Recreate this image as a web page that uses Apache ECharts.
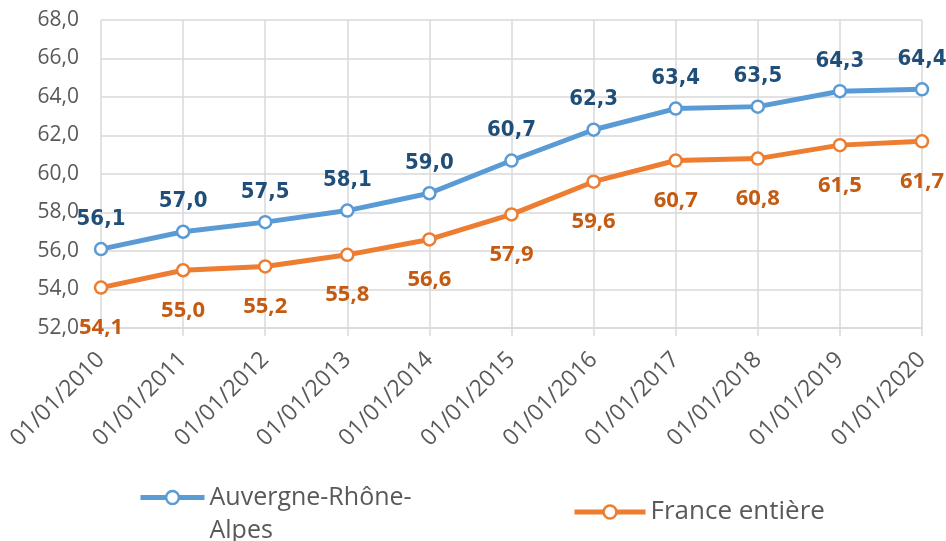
<!DOCTYPE html>
<html>
<head>
<meta charset="utf-8">
<script src="https://cdn.jsdelivr.net/npm/echarts@6/dist/echarts.min.js"></script>
<style>html,body{margin:0;padding:0;background:#fff;}#c{width:946px;height:541px;}</style>
</head>
<body>
<div id="c"></div>
<script>
const categories = ['01/01/2010','01/01/2011','01/01/2012','01/01/2013','01/01/2014','01/01/2015','01/01/2016','01/01/2017','01/01/2018','01/01/2019','01/01/2020'];
const auvergne = [56.1, 57.0, 57.5, 58.1, 59.0, 60.7, 62.3, 63.4, 63.5, 64.3, 64.4];
const france = [54.1, 55.0, 55.2, 55.8, 56.6, 57.9, 59.6, 60.7, 60.8, 61.5, 61.7];
const seriesNames = ['Auvergne-Rhône-Alpes', 'France entière'];
const yMin = 52, yMax = 68, yStep = 2;

const fmt = v => Number(v).toFixed(1).replace('.', ',');
const gridColor = '#D9D9D9';
const textGray = '#595959';

const chart = echarts.init(document.getElementById('c'));
chart.setOption({
  animation: false,
  backgroundColor: '#fff',
  grid: { left: 101, right: 24, top: 20, bottom: 213, containLabel: false, outerBoundsMode: 'none' },
  legend: [
    {
      data: [seriesNames[0]], left: 138, top: 448, padding: 0,
      itemWidth: 64, itemHeight: 16,
      lineStyle: { width: 5 }, itemStyle: { borderWidth: 2.5 },
      formatter: () => '\nAuvergne-Rhône-\nAlpes',
      textStyle: { color: textGray, fontFamily: 'Open Sans', fontSize: 25, lineHeight: 33 }
    },
    {
      data: [seriesNames[1]], left: 572, top: 497, padding: 0,
      itemWidth: 71, itemHeight: 16,
      lineStyle: { width: 5 }, itemStyle: { borderWidth: 2.5 },
      textStyle: { color: textGray, fontFamily: 'Open Sans', fontSize: 26, lineHeight: 30 }
    }
  ],
  xAxis: {
    type: 'category', data: categories, boundaryGap: false,
    axisLine: { show: true, lineStyle: { color: gridColor, width: 1.5 } },
    axisTick: { show: true, length: 8, lineStyle: { color: gridColor, width: 1.5 } },
    splitLine: { show: true, lineStyle: { color: gridColor, width: 1.5 } },
    axisLabel: { rotate: 45, margin: 28, color: textGray, fontFamily: 'Open Sans', fontSize: 23, interval: 0 }
  },
  yAxis: {
    type: 'value', min: yMin, max: yMax, interval: yStep,
    axisLine: { show: false }, axisTick: { show: false },
    splitLine: { show: true, lineStyle: { color: gridColor, width: 1.5 } },
    axisLabel: { formatter: fmt, margin: 22, color: textGray, fontFamily: 'Open Sans', fontSize: 21 }
  },
  series: [
    {
      name: seriesNames[0], type: 'line', data: auvergne,
      symbol: 'circle', symbolSize: 12,
      lineStyle: { color: '#5B9BD5', width: 5 },
      itemStyle: { color: '#fff', borderColor: '#5B9BD5', borderWidth: 2.5 },
      label: { show: true, position: 'top', distance: 12, formatter: p => fmt(p.value),
        color: '#1F4E79', fontWeight: 'bold', fontSize: 22,
        fontFamily: "'Liberation Sans Narrow', 'DejaVu Sans Condensed', sans-serif" },
      z: 3
    },
    {
      name: seriesNames[1], type: 'line', data: france,
      symbol: 'circle', symbolSize: 12,
      lineStyle: { color: '#ED7D31', width: 5 },
      itemStyle: { color: '#fff', borderColor: '#ED7D31', borderWidth: 2.5 },
      label: { show: true, position: 'bottom', distance: 22, formatter: p => fmt(p.value),
        color: '#C55A11', fontWeight: 'bold', fontSize: 22, fontFamily: 'Open Sans' },
      z: 2
    }
  ]
});
</script>
</body>
</html>
